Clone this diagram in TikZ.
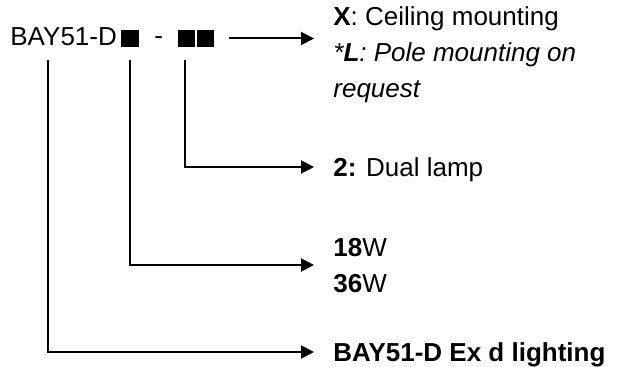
\documentclass[tikz,border=0pt]{standalone}
\usepackage{fontspec}
\setmainfont{Liberation Sans}
\usetikzlibrary{arrows.meta}

\begin{document}
\begin{tikzpicture}[x=0.5pt,y=-0.5pt,
    font=\fontsize{13}{18}\selectfont,
    sq/.style={fill=black,inner sep=0pt,minimum size=8.6pt},
    lbl/.style={anchor=west,inner sep=0pt,align=left,text height=9.3pt,text depth=0pt},
    conn/.style={line width=1pt,shorten >=9.5pt,-{Triangle[length=6.5pt,width=6.5pt]}}]
                \useasboundingbox (0,0) rectangle (617,367);
                \node[anchor=base west,inner sep=0pt] (PN) at (10,46) {BAY51-D};
                \node[sq] (SQ1) at (130,38.5) {};
                \node[anchor=base,inner sep=0pt] (DS) at (158.7,45) {-};
                \node[sq] (SQ2) at (186.5,38.5) {};
                \node[sq] (SQ3) at (205.5,38.5) {};
                \node[lbl,anchor=north west,text height=45.3pt] (MT) at (333,7) {\textbf{X}: Ceiling mounting\\\textit{*\textbf{L}: Pole mounting on}\\\textit{request}};
                \node[lbl] (LP) at (333,167) {\textbf{2:} Dual lamp};
                \node[lbl,text height=27.8pt] (PW) at (333,265) {\textbf{18}W\\\textbf{36}W};
                \node[lbl] (SR) at (333,352) {\textbf{BAY51-D Ex d lighting}};
                \coordinate (PD) at (48,60);
                \draw[conn] ([xshift=7pt]SQ3.east) -- (SQ3.east -| MT.west);
                \draw[conn] ([xshift=-0.75pt,yshift=-6.5pt]SQ2.south) |- (LP.west);
                \draw[conn] ([yshift=-6.5pt]SQ1.south) |- (PW.west);
                \draw[conn] (PD) |- (SR.west);
            \end{tikzpicture}
\end{document}
